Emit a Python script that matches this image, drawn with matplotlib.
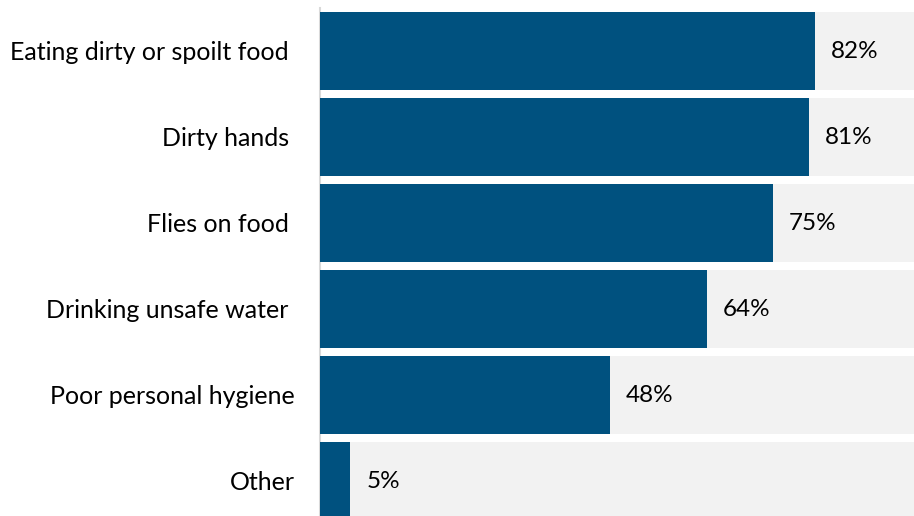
import matplotlib
matplotlib.use("Agg")
import matplotlib.pyplot as plt

# Survey data: perceived causes of diarrhoea (% of respondents)
categories = [
    "Eating dirty or spoilt food ",
    "Dirty hands ",
    "Flies on food ",
    "Drinking unsafe water ",
    "Poor personal hygiene",
    "Other",
]
values = [82, 81, 75, 64, 48, 5]
full_scale = [100] * len(values)
value_labels = ["82%", "81%", "75%", "64%", "48%", "5%"]

BAR_COLOR = "#00517F"
TRACK_COLOR = "#F2F2F2"
AXIS_COLOR = "#D9D9D9"
FONT = ["Lato", "DejaVu Sans"]

W, H, DPI = 914, 516, 100
fig = plt.figure(figsize=(W / DPI, H / DPI), dpi=DPI)

# Geometry in pixels: plot starts at x=320, 100% spans ~604 px,
# rows are 86 px apart, first row centred at y=51, plot top at y=8.
left_px, span_px = 320, 604
top_px, pitch_px, first_center_px = 8, 86, 51
ax = fig.add_axes([left_px / W, 0, span_px / W, (H - top_px) / H])

y = list(range(len(categories)))
bar_h = 78 / pitch_px
ax.barh(y, full_scale, height=bar_h, color=TRACK_COLOR, zorder=1)
ax.barh(y, values, height=bar_h, color=BAR_COLOR, zorder=3)

ax.set_xlim(0, 100)
y_top = (top_px - first_center_px) / pitch_px
y_bottom = (H - first_center_px) / pitch_px
ax.set_ylim(y_bottom, y_top)

for yi, v, lab in zip(y, values, value_labels):
    ax.annotate(lab, xy=(v, yi), xytext=(11.5, 0), textcoords="offset points",
                va="center", ha="left", fontsize=17.5, family=FONT,
                color="#000000", zorder=4)

ax.set_yticks(y)
ax.set_yticklabels(categories, fontsize=18, family=FONT, color="#000000")
ax.tick_params(axis="y", length=0, pad=18)
ax.set_xticks([])

for side in ("top", "right", "bottom"):
    ax.spines[side].set_visible(False)
ax.spines["left"].set_color(AXIS_COLOR)
ax.spines["left"].set_linewidth(1.5)
ax.spines["left"].set_zorder(2)
ax.set_facecolor("white")

fig.savefig("out.png", dpi=DPI)
